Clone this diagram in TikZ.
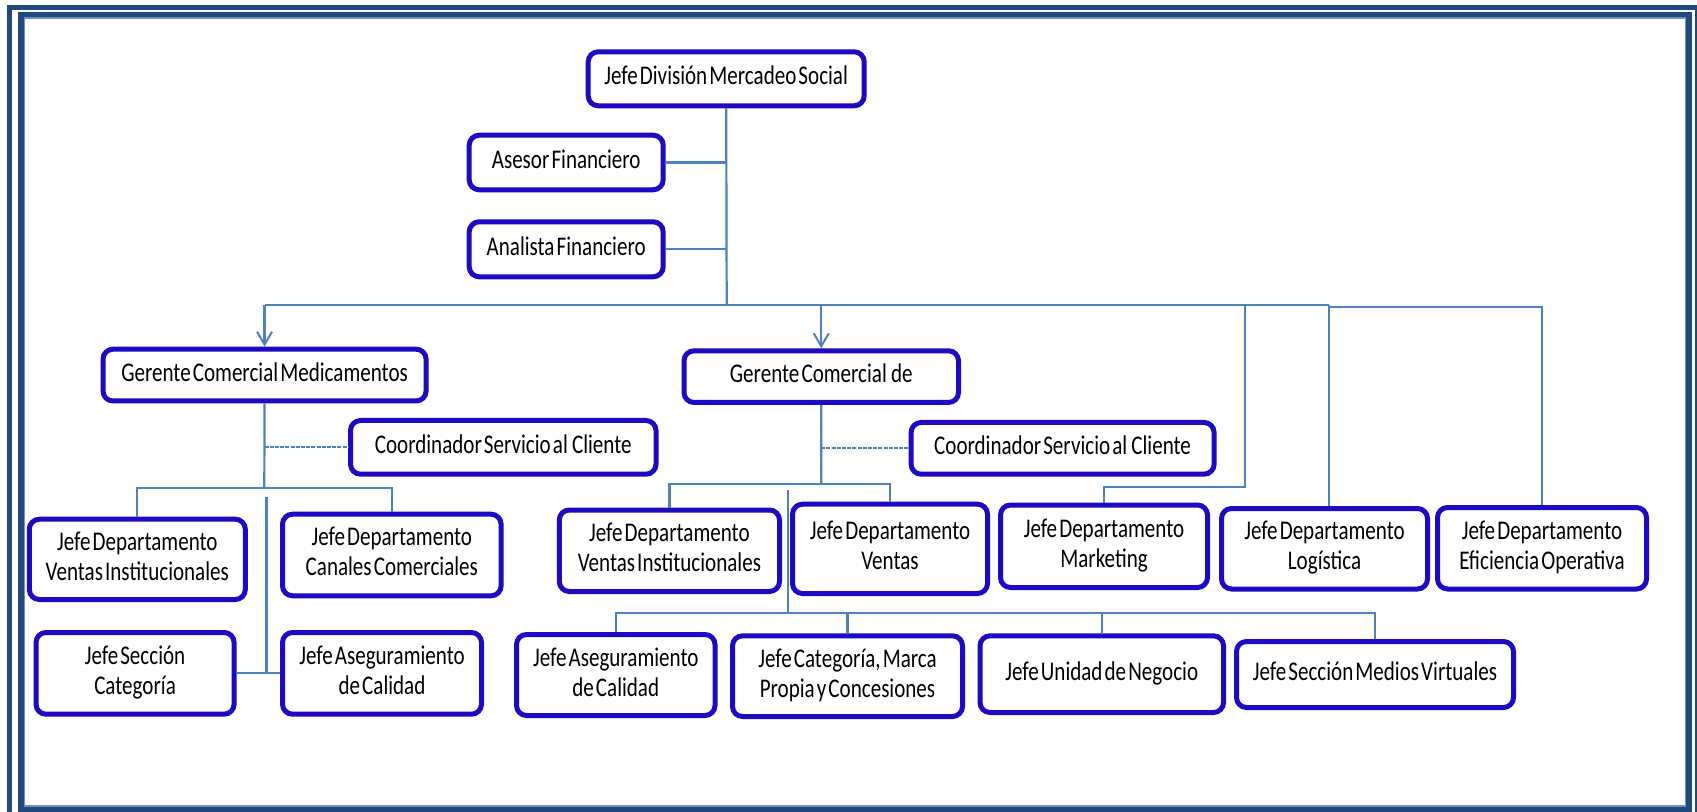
\documentclass[tikz,border=0pt]{standalone}
\usepackage{fontspec}
\usepackage{graphicx}
\setmainfont{Carlito}
\usetikzlibrary{arrows.meta}

\definecolor{boxblue}{RGB}{30,10,192}
\definecolor{linkblue}{RGB}{79,129,189}
\definecolor{framedark}{RGB}{34,73,126}
\definecolor{framelight}{RGB}{110,145,190}

% condensed label, one or two lines, with narrow word spaces
\newcommand\orgtext[1]{\spaceskip=0.1em plus 0.05em\relax
  \scalebox{0.78}[1]{\begin{tabular}{@{}c@{}}#1\end{tabular}}}
% box from its outer corners: name, x1, y1, x2, y2, label
\newcommand\orgbox[6]{%
  \node[orgnode, minimum width={(#4-#2-5)*0.5pt}, minimum height={(#5-#3-5)*0.5pt}]
    (#1) at ({(#2+#4)/2},{(#3+#5)/2}) {\orgtext{#6}};}

\tikzset{
  orgnode/.style={draw=boxblue, line width=2.5pt, rounded corners=5pt, fill=white,
    inner sep=0pt, font=\fontsize{13.5}{15}\selectfont},
  link/.style={draw=linkblue, line width=1.1pt},
  dotlink/.style={link, dash pattern=on 2pt off 0.6pt},
  droparrow/.style={link, -{Straight Barb[length=6.5pt,width=7.5pt,line width=1pt]}},
}

\begin{document}
\begin{tikzpicture}[x=0.5pt, y=-0.5pt]
\useasboundingbox (0,0) rectangle (1697,812);
\fill[white] (0,0) rectangle (1697,812);

% page frame
\draw[framedark, line width=2.4pt] (9.2,7.5) rectangle (1697.5,815);
\draw[framedark, line width=2.6pt] (21,14.7) rectangle (1689,809.5);
\draw[framelight, line width=0.8pt] (24.5,18) rectangle (1685.5,806);

% boxes
\orgbox{top}{585.7}{49.3}{866.7}{108.3}{Jefe División Mercadeo Social}
\orgbox{ase}{466.7}{132.7}{665.7}{192.3}{Asesor Financiero}
\orgbox{ana}{466.7}{219.3}{665.7}{279.3}{Analista Financiero}
\orgbox{gcm}{100.5}{346.7}{428.6}{403.5}{Gerente Comercial Medicamentos}
\orgbox{gcd}{681.5}{348.3}{961}{405}{Gerente Comercial \ de}
\orgbox{csl}{348}{418}{658.5}{476.7}{Coordinador Servicio al \ Cliente}
\orgbox{csr}{908.6}{420}{1216.6}{476.7}{Coordinador Servicio al \ Cliente}
\orgbox{vil}{26.8}{516.7}{247.8}{602}{Jefe Departamento\\Ventas Institucionales}
\orgbox{ccl}{280}{511.7}{503.6}{598.3}{Jefe Departamento\\Canales Comerciales}
\orgbox{jsc}{33.5}{630}{236.6}{716.7}{Jefe Sección\\Categoría}
\orgbox{jal}{280}{630}{484}{716.7}{Jefe Aseguramiento\\de Calidad}
\orgbox{vim}{556.8}{507.5}{782}{594}{Jefe Departamento\\Ventas Institucionales}
\orgbox{vta}{790}{501.7}{990}{596}{Jefe Departamento\\Ventas}
\orgbox{mkt}{998}{502.5}{1210}{590}{Jefe Departamento\\Marketing}
\orgbox{lgs}{1219}{506}{1430}{591.5}{Jefe Departamento\\Logística}
\orgbox{efi}{1435}{505}{1649}{591.5}{Jefe Departamento\\Eficiencia Operativa}
\orgbox{jam}{514}{632}{717.5}{718}{Jefe Aseguramiento\\de Calidad}
\orgbox{cat}{730}{633.3}{965}{719}{Jefe Categoría, Marca\\Propia y Concesiones}
\orgbox{une}{977.5}{633.3}{1226}{715}{Jefe Unidad de Negocio}
\orgbox{mvi}{1234}{639}{1516}{710}{Jefe Sección Medios Virtuales}

% junction points
\coordinate (bus) at (726.7,305);
\coordinate (mkj) at (1245,487.3);
\coordinate (lgx) at (1329,305);
\coordinate (bl) at (264.3,488);
\coordinate (bltop) at (266.5,496.7);
\coordinate (bm) at (821.3,484);
\coordinate (bmtop) at (788,490);
\coordinate (bmlow) at (788,613.3);

% top level
\draw[link] (top.south) -- (bus);
\draw[link] (ase.east) -- (ase.east -| top.south);
\draw[link] (ana.east) -- (ana.east -| top.south);
\draw[link] (gcm.north |- bus) -- (lgx);
\draw[link] (lgx) -- ++(0,2) -- (efi.north |- 0,307) -- (efi.north);
\draw[droparrow] (gcm.north |- bus) -- (gcm.north);
\draw[droparrow] (gcd.north |- bus) -- (gcd.north);
\draw[link] (mkj |- bus) -- (mkj) -| (mkt.north);
\draw[link] (lgx) -- (lgs.north -| lgx);

% under the first manager
\draw[link] (gcm.south) -- (bl);
\draw[dotlink] (csl.west -| gcm.south) -- (csl.west);
\draw[link] (vil.north) |- (bl) -| (ccl.north);
\draw[link] (bltop) -- (jsc.east -| bltop);
\draw[link] (jsc.east) -- (jal.west);

% under the second manager
\draw[link] (gcd.south) -- (bm);
\draw[dotlink] (csr.west -| gcd.south) -- (csr.west);
\draw[link] (vim.north) |- (bm) -| (vta.north);
\draw[link] (bmtop) -- (bmlow);
\draw[link] (jam.north) |- (bmlow) -| (mvi.north);
\draw[link] (cat.north) -- (cat.north |- bmlow);
\draw[link] (une.north) -- (une.north |- bmlow);
\end{tikzpicture}
\end{document}
